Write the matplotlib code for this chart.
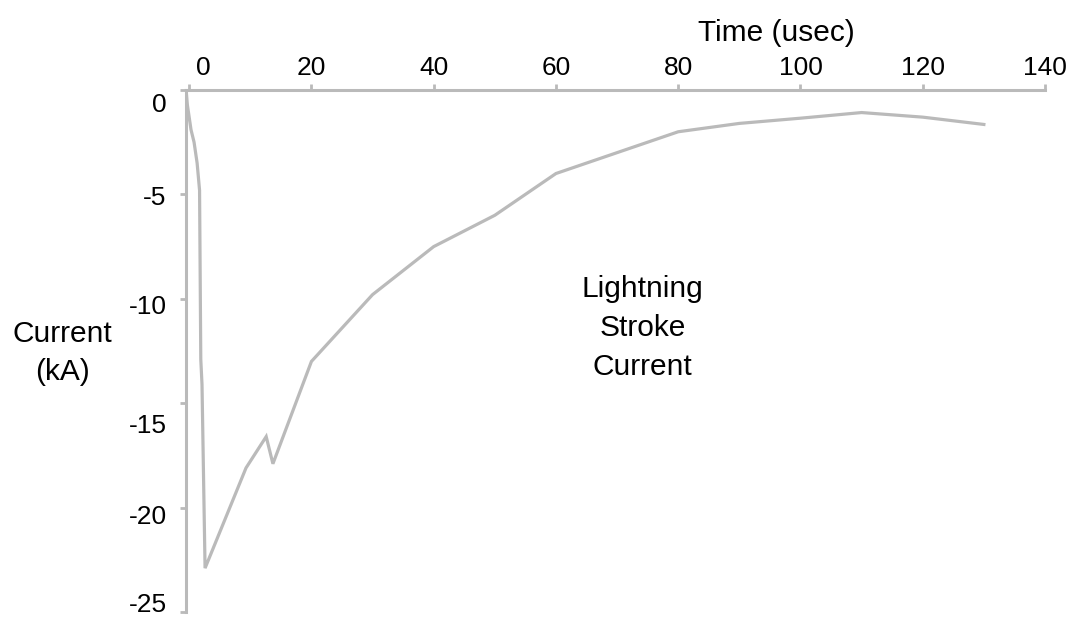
import matplotlib
matplotlib.use("Agg")
import matplotlib.pyplot as plt
import matplotlib.transforms as mtransforms

# lightning stroke current
time_us = [-0.5, -0.3, 0.3, 0.8, 1.3, 1.7, 1.9, 2.1, 2.6, 9.3, 12.6, 13.7,
           20, 30, 40, 50, 60, 70, 80, 90, 100, 110, 120, 130]
current_ka = [0, -0.7, -1.9, -2.5, -3.5, -4.8, -12.9, -14.1, -22.9, -18.1, -16.6, -17.9,
              -13.0, -9.8, -7.5, -6.0, -4.0, -3.0, -2.0, -1.6, -1.35, -1.08, -1.3, -1.65]

x_ticks = [0, 20, 40, 60, 80, 100, 120, 140]
y_ticks = [0, -5, -10, -15, -20, -25]

grey = '#bababa'
plt.rcParams['font.family'] = ['Liberation Sans', 'DejaVu Sans']
plt.rcParams['axes.unicode_minus'] = False
fs_tick = 19
fs_text = 21.5

fig = plt.figure(figsize=(10.73, 6.17), dpi=100)
ax = fig.add_axes([185.5 / 1073, 1 - 612 / 617, (1045 - 185.5) / 1073, (612 - 90) / 617])

ax.plot(time_us, current_ka, color=grey, lw=2.3, solid_joinstyle='miter')

ax.set_xlim(-0.6, 140)
ax.set_ylim(-25, 0)

for side in ['bottom', 'right']:
    ax.spines[side].set_visible(False)
for side in ['top', 'left']:
    ax.spines[side].set_color(grey)
    ax.spines[side].set_linewidth(2.2)

ax.xaxis.tick_top()
ax.set_xticks(x_ticks)
ax.set_yticks(y_ticks)
ax.tick_params(axis='both', color=grey, width=2, length=4.5, labelsize=fs_tick, direction='out')
ax.tick_params(axis='x', pad=3)
ax.tick_params(axis='y', pad=9)

# label nudges (in pixels) so the labels sit where the original put them
fig.canvas.draw()
lbl0 = ax.get_xticklabels()[0]
lbl0.set_transform(lbl0.get_transform() + mtransforms.ScaledTranslation(0.14, 0, fig.dpi_scale_trans))
y_nudge = [-12, -1, -6, -20, -7, 10]
for lbl, dy in zip(ax.get_yticklabels(), y_nudge):
    lbl.set_transform(lbl.get_transform() + mtransforms.ScaledTranslation(0, dy / 100, fig.dpi_scale_trans))

ax.xaxis.set_label_position('top')
ax.set_xlabel("Time (usec)", fontsize=fs_text)
ax.xaxis.set_label_coords((776 - 185.5) / 859.5, (612 - 33) / 522)
ax.xaxis.label.set_va('center')

ax.set_ylabel("Current\n(kA)", fontsize=fs_text, rotation=0, linespacing=1.5, ha='center', va='center')
ax.yaxis.set_label_coords((62 - 185.5) / 859.5, (612 - 353) / 522)

ax.text(74.2, -11.4, "Lightning\nStroke\nCurrent", fontsize=fs_text, ha='center', va='center',
        linespacing=1.52)

fig.savefig("out.png", dpi=100)
